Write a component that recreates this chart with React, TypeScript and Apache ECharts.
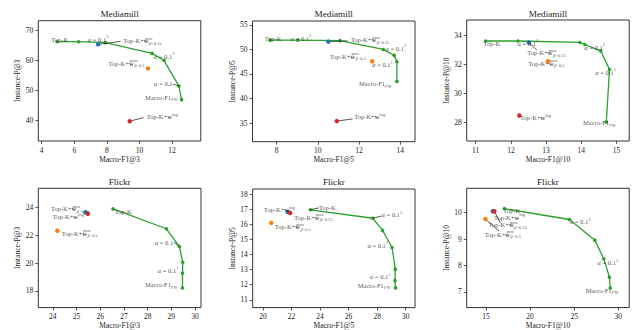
import React, { useEffect, useRef } from "react";
import * as echarts from "echarts";

// ---------- data ----------
const panelTitles = ["Mediamill", "Mediamill", "Mediamill", "Flickr", "Flickr", "Flickr"];
const xAxisNames = ["Macro-F1@3", "Macro-F1@5", "Macro-F1@10", "Macro-F1@3", "Macro-F1@5", "Macro-F1@10"];
const yAxisNames = ["Instance-P@3", "Instance-P@5", "Instance-P@10", "Instance-P@3", "Instance-P@5", "Instance-P@10"];

const xMin = [3.79, 6.83, 10.745, 23.39, 19.28, 12.8];
const xMax = [13.76, 14.72, 15.36, 30.25, 30.65, 31.25];
const yMin = [33.1, 31.2, 26.7, 16.8, 10.48, 6.41];
const yMax = [73.2, 55.8, 35.05, 25.38, 18.35, 10.92];

const xTicks = [
  [4, 6, 8, 10, 12],
  [8, 10, 12, 14],
  [11, 12, 13, 14, 15],
  [24, 25, 26, 27, 28, 29, 30],
  [20, 22, 24, 26, 28, 30],
  [15, 20, 25, 30],
];
const yTicks = [
  [40, 50, 60, 70],
  [35, 40, 45, 50, 55],
  [28, 30, 32, 34],
  [18, 20, 22, 24],
  [11, 12, 13, 14, 15, 16, 17, 18],
  [7, 8, 9, 10],
];

// Top-K -> alpha path (green)
const mm3X = [4.95, 6.26, 7.91, 10.77, 11.5, 12.42, 12.58];
const mm3Y = [66.2, 66.2, 65.9, 62.3, 60.0, 51.4, 46.9];
const mm5X = [7.69, 9.03, 11.08, 13.18, 13.71, 13.84, 13.84];
const mm5Y = [51.9, 51.9, 51.8, 50.0, 48.8, 47.5, 43.5];
const mm10X = [11.28, 12.2, 13.96, 14.1, 14.55, 14.8, 14.71];
const mm10Y = [33.6, 33.6, 33.5, 33.36, 32.92, 31.63, 28.02];
const fl3X = [26.54, 28.79, 29.34, 29.48, 29.47, 29.47];
const fl3Y = [23.9, 22.47, 21.19, 20.06, 19.28, 18.21];
const fl5X = [23.32, 27.69, 28.38, 29.04, 29.27, 29.25, 29.29];
const fl5Y = [16.97, 16.41, 15.6, 14.47, 13.03, 12.27, 11.79];
const fl10X = [17.08, 24.47, 27.35, 28.37, 29.0, 29.1];
const fl10Y = [10.15, 9.74, 8.96, 8.25, 7.56, 7.15];

const curvesX = [mm3X, mm5X, mm10X, fl3X, fl5X, fl10X];
const curvesY = [mm3Y, mm5Y, mm10Y, fl3Y, fl5Y, fl10Y];

// single points per panel
const powQuarterX = [7.46, 10.51, 12.51, 25.38, 21.74, 15.76];
const powQuarterY = [65.3, 51.6, 33.5, 23.65, 16.82, 10.05];
const powHalfX = [10.52, 12.64, 13.05, 24.19, 20.58, 14.92];
const powHalfY = [57.3, 47.6, 32.2, 22.33, 16.1, 9.76];
const logX = [9.4, 10.92, 12.24, 25.48, 21.9, 15.94];
const logY = [39.7, 35.4, 28.46, 23.55, 16.76, 10.05];

// annotations: [key, x, y] in data coordinates
const ann1: [string, number, number][] = [
  ["topk", 5.1, 67.0], ["a3", 7.46, 67.0], ["pow25", 10.18, 66.6], ["a2", 11.51, 61.4],
  ["pow5", 9.2, 59.0], ["a", 11.46, 52.2], ["fw", 11.34, 47.7], ["log", 11.39, 41.2],
];
const ann2: [string, number, number][] = [
  ["topk", 7.83, 52.27], ["a3", 9.18, 52.27], ["pow25", 12.54, 51.96], ["a2", 13.79, 50.2],
  ["pow5", 11.46, 48.63], ["a1", 13.14, 46.87], ["fw", 12.79, 43.03], ["log", 12.52, 36.3],
];
const ann3: [string, number, number][] = [
  ["topk", 11.46, 33.4], ["a3", 12.48, 33.43], ["pow25", 13.01, 32.78], ["a2", 14.38, 33.17],
  ["pow5", 13.01, 32.07], ["a1", 14.69, 31.45], ["fw", 14.51, 27.95], ["log", 12.7, 28.32],
];
const ann4: [string, number, number][] = [
  ["pow25", 24.73, 23.9], ["log", 24.65, 23.32], ["pow5", 25.14, 22.13], ["topk", 26.97, 23.74],
  ["a", 28.69, 21.45], ["a1", 28.86, 19.49], ["fw", 28.57, 18.43],
];
const ann5: [string, number, number][] = [
  ["log", 21.14, 16.97], ["pow25", 23.54, 16.48], ["pow5", 22.09, 15.86], ["topk", 24.51, 17.15],
  ["a3", 29.02, 16.65], ["a2", 28.04, 14.62], ["a1", 28.21, 12.53], ["fw", 27.78, 11.96],
];
const ann6: [string, number, number][] = [
  ["topk", 17.92, 10.07], ["log", 17.65, 9.82], ["pow25", 17.44, 9.55], ["pow5", 16.91, 9.19],
  ["a3", 25.68, 9.66], ["a2", 28.83, 8.11], ["fw", 28.15, 7.06],
];
const annotations = [ann1, ann2, ann3, ann4, ann5, ann6];

// annotation arrows: [x1, y1, x2, y2]
const arrows: number[][][] = [
  [[7.46, 65.3, 8.83, 66.3], [9.4, 39.7, 10.25, 40.9], [12.05, 52.0, 12.4, 51.5]],
  [[10.51, 51.6, 11.44, 51.75], [10.92, 35.4, 11.69, 35.84]],
  [[12.51, 33.5, 12.74, 32.97]],
  [[29.1, 21.5, 29.3, 21.25]],
  [[23.32, 16.97, 23.92, 17.1], [27.69, 16.41, 28.27, 16.55]],
  [[15.94, 10.05, 16.6, 9.62], [14.92, 9.76, 16.5, 9.3]],
];

const annTexts: Record<string, string> = {
  topk: "Top-K",
  a3: "{i|α} = 0.1{sp|3}",
  a2: "{i|α} = 0.1{sp|2}",
  a1: "{i|α} = 0.1{sp|1}",
  a: "{i|α} = 0.1",
  pow25: "Top-K+{b|w}{spz|pow}{sbi|β}{sb|=0.25}",
  pow5: "Top-K+{b|w}{spz|pow}{sbi|β}{sb|=0.5}",
  log: "Top-K+{b|w}{sp|log}",
  fw: "Macro-F1{sbi|FW}",
};

// ---------- layout / style ----------
const SERIF = "'Liberation Serif', 'DejaVu Serif', serif";
const TXT = "#1a1a1a";
const grids = [
  { left: 38.3, top: 20.7, width: 162.5, height: 120.3 },
  { left: 252.5, top: 21, width: 162.5, height: 120.7 },
  { left: 466.7, top: 20, width: 162.5, height: 121 },
  { left: 38.3, top: 188.3, width: 162.7, height: 121 },
  { left: 252.7, top: 189, width: 162.3, height: 120.3 },
  { left: 466.7, top: 188.3, width: 162.5, height: 120.7 },
];
const yNameGaps = [15.5, 16, 15.5, 14.5, 16, 13.5];
const titleY = [13.5, 13.5, 13.5, 182, 182, 182];

const AFS = 6.5;
const rich = {
  b: { fontSize: AFS, fontWeight: "bold", fontFamily: SERIF, color: TXT, lineHeight: 10 },
  i: { fontSize: AFS, fontStyle: "italic", fontFamily: SERIF, color: TXT, lineHeight: 10 },
  sp: { fontSize: 4.5, fontFamily: SERIF, color: TXT, verticalAlign: "top", lineHeight: 5 },
  spz: { fontSize: 4.5, fontFamily: SERIF, color: TXT, verticalAlign: "top", lineHeight: 5, width: 0.5 },
  sb: { fontSize: 4.5, fontFamily: SERIF, color: TXT, verticalAlign: "bottom", lineHeight: 5 },
  sbi: { fontSize: 4.5, fontFamily: SERIF, fontStyle: "italic", color: TXT, verticalAlign: "bottom", lineHeight: 5 },
};

function buildOption() {
  const grid = grids.map((g) => ({
    ...g,
    show: true,
    borderColor: "#333",
    borderWidth: 1,
    backgroundColor: "transparent",
    containLabel: false,
  }));
  const xAxis = grids.map((_, i) => ({
    type: "value",
    gridIndex: i,
    min: xMin[i],
    max: xMax[i],
    axisLine: { show: false },
    splitLine: { show: false },
    axisTick: { show: true, length: 3, customValues: xTicks[i], lineStyle: { color: "#333", width: 0.8 } },
    axisLabel: {
      customValues: xTicks[i],
      fontSize: 7.5,
      fontFamily: SERIF,
      fontWeight: "normal",
      color: "#222",
      margin: i < 3 ? 5 : 4.5,
    },
    name: xAxisNames[i],
    nameLocation: "middle",
    nameGap: i < 3 ? 14 : 13,
    nameTextStyle: { fontSize: 7.5, fontFamily: SERIF, fontWeight: "normal", color: "#222" },
  }));
  const yAxis = grids.map((_, i) => ({
    type: "value",
    gridIndex: i,
    min: yMin[i],
    max: yMax[i],
    axisLine: { show: false },
    splitLine: { show: false },
    axisTick: { show: true, length: 3, customValues: yTicks[i], lineStyle: { color: "#333", width: 0.8 } },
    axisLabel: {
      customValues: yTicks[i],
      fontSize: 7.5,
      fontFamily: SERIF,
      fontWeight: "normal",
      color: "#222",
      margin: 5,
    },
    name: yAxisNames[i],
    nameLocation: "middle",
    nameGap: yNameGaps[i],
    nameTextStyle: { fontSize: 7.5, fontFamily: SERIF, fontWeight: "normal", color: "#222" },
  }));

  const series: any[] = [];
  for (let i = 0; i < 6; i++) {
    const base = { xAxisIndex: i, yAxisIndex: i, silent: true };
    series.push({
      ...base,
      type: "line",
      data: curvesX[i].map((x, k) => [x, curvesY[i][k]]),
      symbol: "circle",
      symbolSize: 3.6,
      showSymbol: true,
      color: "#2ca02c",
      itemStyle: { color: "#2ca02c" },
      lineStyle: { color: "#2ca02c", width: 1.3 },
      z: 3,
    });
    arrows[i].forEach((a) => {
      series.push({
        ...base,
        type: "line",
        data: [[a[0], a[1]], [a[2], a[3]]],
        symbol: "none",
        showSymbol: false,
        lineStyle: { color: "#111", width: 0.7 },
        z: 4,
      });
    });
    const pts: [number[], number[], string][] = [
      [powQuarterX, powQuarterY, "#1f77b4"],
      [powHalfX, powHalfY, "#ff7f0e"],
      [logX, logY, "#d62728"],
    ];
    pts.forEach(([xs, ys, c]) => {
      series.push({
        ...base,
        type: "scatter",
        data: [[xs[i], ys[i]]],
        symbol: "circle",
        symbolSize: 4.5,
        itemStyle: { color: c, opacity: 1 },
        z: 5,
      });
    });
    const ann = annotations[i];
    series.push({
      ...base,
      type: "scatter",
      data: ann.map((a) => [a[1], a[2]]),
      symbol: "circle",
      symbolSize: 1,
      itemStyle: { color: "rgba(0,0,0,0)" },
      z: 6,
      label: {
        show: true,
        position: "inside",
        align: "center",
        verticalAlign: "middle",
        fontSize: AFS,
        fontFamily: SERIF,
        fontWeight: "normal",
        color: TXT,
        lineHeight: 10,
        formatter: (p: any) => annTexts[ann[p.dataIndex][0]],
        rich,
      },
    });
  }

  const graphic = grids.map((g, i) => ({
    type: "text",
    x: g.left + g.width / 2,
    y: titleY[i],
    silent: true,
    style: {
      text: panelTitles[i],
      fontSize: 9.2,
      fontFamily: SERIF,
      fontWeight: "normal",
      fill: "#222",
      align: "center",
      verticalAlign: "middle",
    },
  }));

  return {
    animation: false,
    backgroundColor: "#ffffff",
    grid,
    xAxis,
    yAxis,
    series,
    graphic,
  };
}

export default function App() {
  const ref = useRef<HTMLDivElement>(null);
  useEffect(() => {
    if (!ref.current) return;
    const chart = echarts.init(ref.current, undefined, { renderer: "svg" });
    chart.setOption(buildOption() as any);
    return () => chart.dispose();
  }, []);
  return (
    <div
      ref={ref}
      style={{ position: "absolute", left: 0, top: 0, width: 640, height: 330, background: "#fff" }}
    />
  );
}
